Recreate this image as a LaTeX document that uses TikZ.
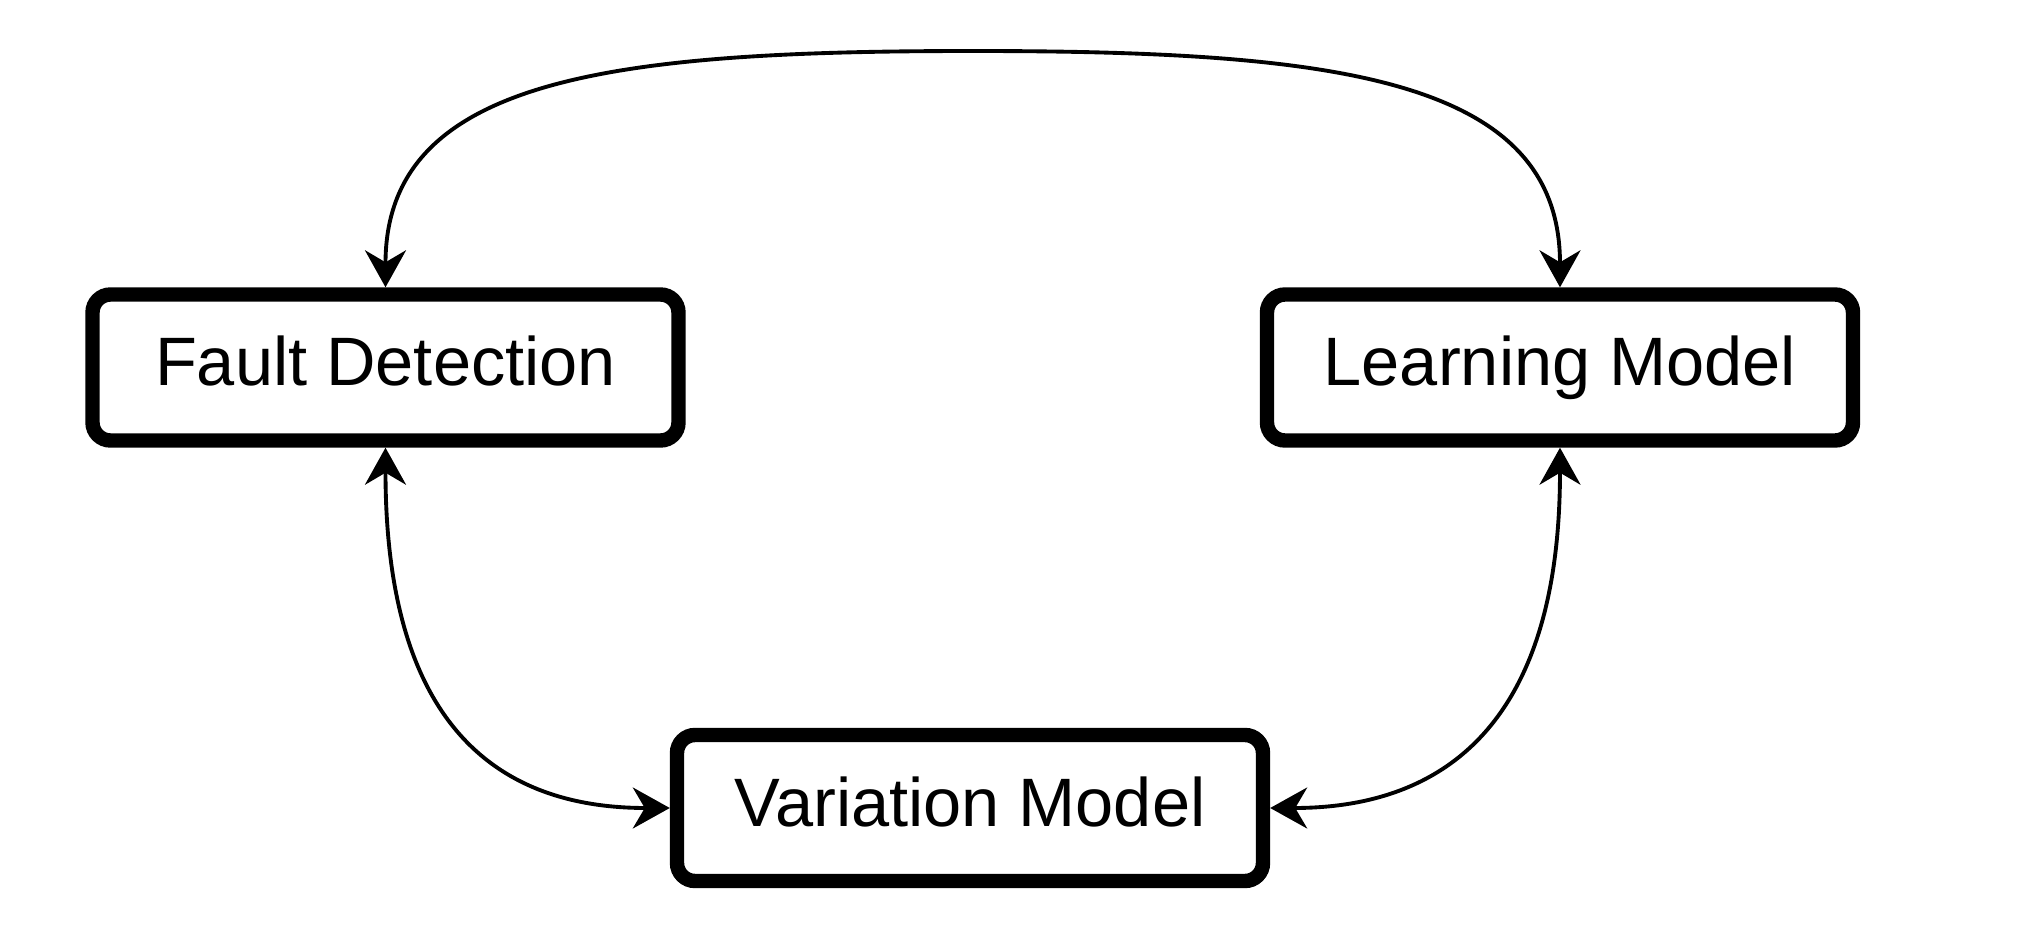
\documentclass[tikz,border=0pt]{standalone}
\usepackage{fontspec}
\setmainfont{Liberation Sans}
\usetikzlibrary{arrows.meta}
\begin{document}
\begin{tikzpicture}[
  block/.style={draw, line width=4.1pt, rounded corners=0.18cm, fill=white,
    minimum width=5.86cm, minimum height=1.46cm, text height=14pt, text depth=3.7pt,
    font=\fontsize{19.5}{23}\selectfont},
  link/.style={line width=1.1pt,
    {Stealth[length=0.37cm,width=0.41cm,inset=0.12cm]}-{Stealth[length=0.37cm,width=0.41cm,inset=0.12cm]}}
]
\useasboundingbox (0,0) rectangle (20.28,9.4);

\node[block] (fault) at (3.855,5.725) {Fault Detection};
\node[block] (learn) at (15.6,5.725) {Learning Model};
\node[block] (vari) at (9.7,1.32) {Variation Model};
\coordinate (top) at (9.73,8.89);

\draw[link] (fault.north) .. controls +(0,2.1) and +(-3.6,0) .. (top)
  .. controls +(3.6,0) and +(0,2.1) .. (learn.north);
\draw[link] (fault.south) .. controls +(0,-2.8) and +(-1.7,0) .. (vari.west);
\draw[link] (learn.south) .. controls +(0,-2.8) and +(1.7,0) .. (vari.east);

\end{tikzpicture}
\end{document}
